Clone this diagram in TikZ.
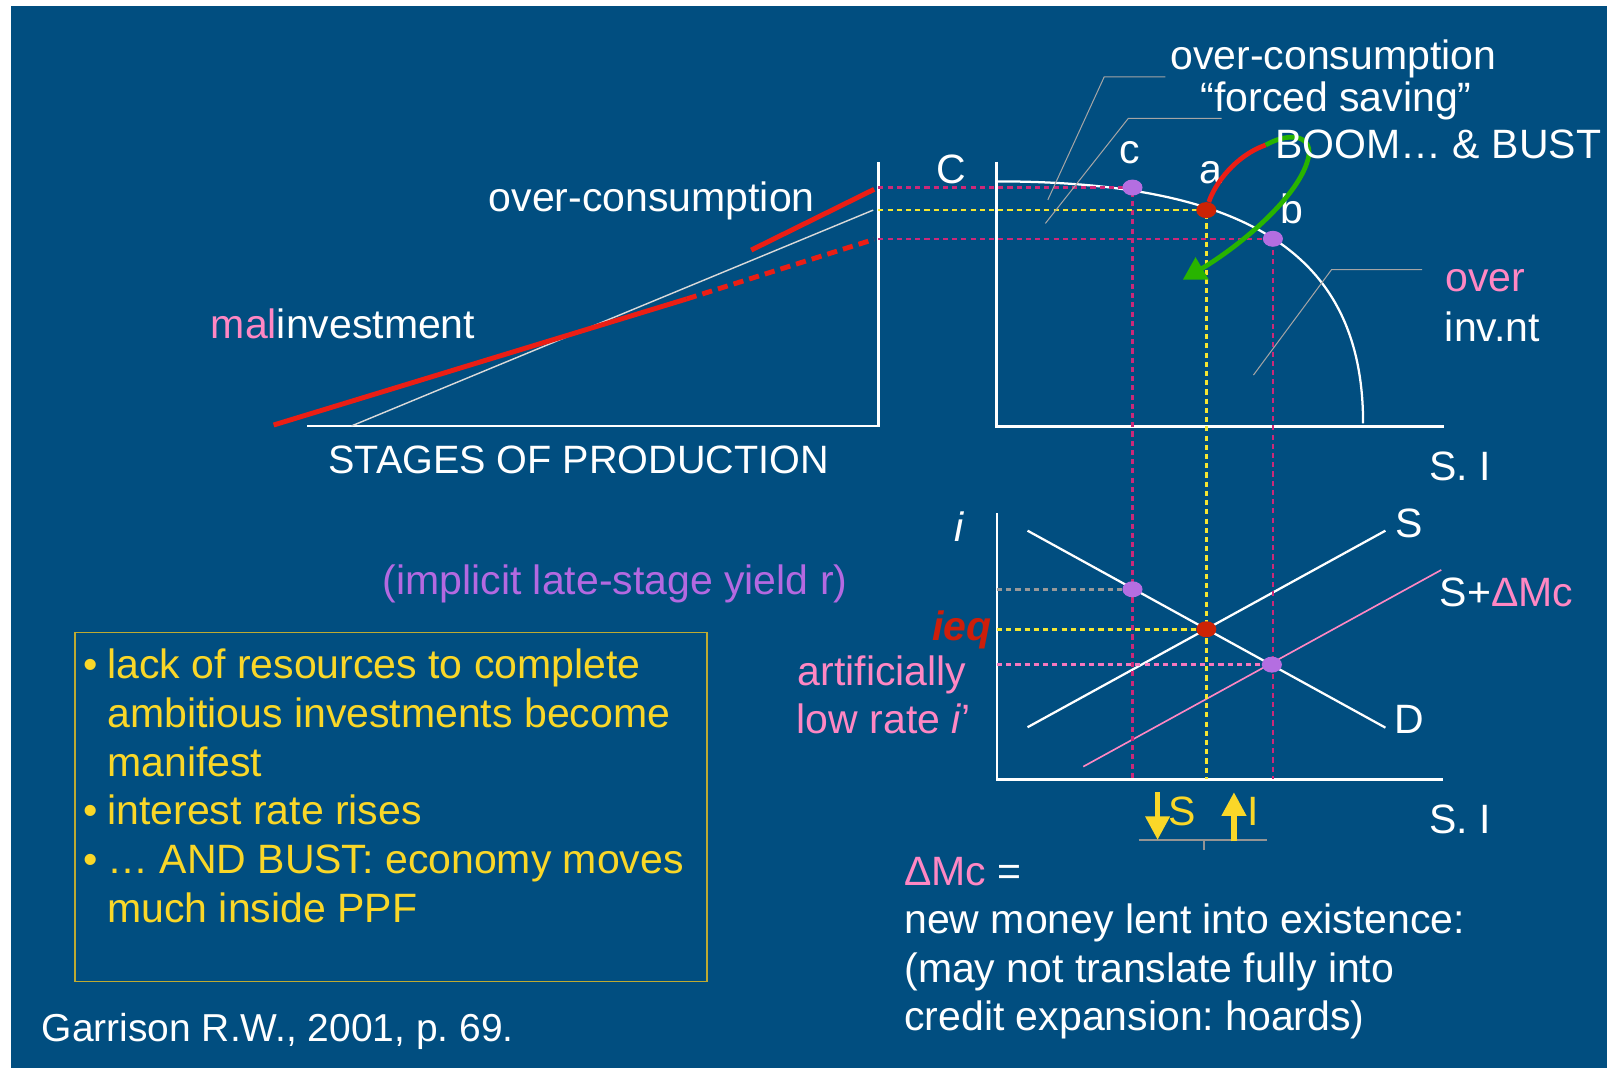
\documentclass[tikz,border=0pt]{standalone}
\usepackage{fontspec}
\setmainfont{Liberation Sans}
\usetikzlibrary{arrows.meta,shapes.geometric}
\frenchspacing
\definecolor{slideblue}{RGB}{1,78,128}
\definecolor{linered}{RGB}{235,30,20}
\definecolor{dotred}{RGB}{205,35,5}
\definecolor{dotpurple}{RGB}{180,110,225}
\definecolor{textpink}{RGB}{255,135,195}
\definecolor{textpurple}{RGB}{180,105,225}
\definecolor{guidemagenta}{RGB}{205,40,120}
\definecolor{guidepink}{RGB}{245,120,190}
\definecolor{guideyellow}{RGB}{245,230,50}
\definecolor{noteyellow}{RGB}{250,215,40}
\definecolor{boxolive}{RGB}{190,170,50}
\definecolor{boomgreen}{RGB}{40,180,0}
\definecolor{leadergray}{RGB}{165,165,165}
\definecolor{ieqred}{RGB}{205,30,10}
\tikzset{
  axis/.style={white, line width=1.3pt},
  ppf/.style={white, line width=1.1pt},
  faint/.style={white!85!black, line width=0.7pt},
  schedule/.style={white, line width=1.1pt},
  mcline/.style={textpink, line width=0.8pt},
  malline/.style={linered, line width=2.4pt},
  guide/.style={line width=1.2pt, dash pattern=on 2.5pt off 2pt},
  leader/.style={leadergray, line width=0.5pt},
  pointdot/.style={ellipse, minimum width=9.8pt, minimum height=7.8pt, inner sep=0pt},
  lab/.style={font=\fontsize{20}{24}\selectfont, text=white, inner sep=0pt, anchor=base west},
  block/.style={font=\fontsize{20}{23.8}\selectfont, text=white, inner sep=0pt,
                anchor=north west, align=left},
  swing/.style={line width=2.3pt},
  moveflow/.style={noteyellow, line width=2.6pt, -{Triangle[width=11.5pt,length=11.5pt]}},
  bracket/.style={leadergray!90!black, line width=0.9pt},
}

\begin{document}
\begin{tikzpicture}[x=0.5pt,y=-0.5pt]
  \path[use as bounding box] (0,0) rectangle (1568,1042);
  \fill[white] (0,0) rectangle (1568,1042);
  \fill[slideblue] (10.8,5.9) rectangle (1568,1042);

  % Stages of production.
  \draw[axis] (300,415.6) -- (857,415.6) -- (857,157.7);
  \draw[faint] (343,415.6) -- (852,205);
  \draw[malline] (267,414.7) -- (670,291.7);
  \draw[malline, dash pattern=on 5pt off 3pt] (670,291.7) -- (853,233.5);
  \draw[malline] (733,244) -- (853,184.7);
  \node[lab] (overconsLeft) at (476.6,206.5) {over-consumption};
  \node[lab] (malinv) at (205.4,330) {\textcolor{textpink}{mal}investment};
  \node[lab, font=\fontsize{19.3}{24}\selectfont] (stages) at (320,461.8) {STAGES OF PRODUCTION};
  \node[lab] (Clab) at (913,178.9) {C};

  % Production possibilities frontier.
  \draw[axis] (972.4,157.7) -- (972.4,416) -- (1409,416);
  \draw[ppf] (972.4,177) .. controls (1220,177) and (1330,250) .. (1330,413);
  \node[lab] (SIup) at (1394,469) {S. I};

  % Loanable funds market.
  \coordinate (lowO) at (972.8,760.4);
  \draw[axis] (972.8,500.8) -- (lowO) -- (1408,760.4);
  \draw[schedule] (1002.6,517.8) -- (1351.8,710);
  \draw[schedule] (1002.6,709.6) -- (1351.8,517.8);
  \draw[mcline] (1057,748) -- (1406.3,556.1);
  \node[lab] (Slab) at (1361.7,524.3) {S};
  \node[lab] (SMclab) at (1404.5,591.3) {S+\textcolor{textpink}{ΔMc}};
  \node[lab] (Dlab) at (1360.3,715.5) {D};
  \node[lab] (SIlow) at (1394,813) {S. I};
  \node[lab] (ilab) at (931,528.5) {\itshape i};

  % Guide lines.
  \coordinate (pc) at (1105,183);
  \coordinate (pa) at (1177,205);
  \coordinate (pb) at (1242,233);
  \coordinate (pr) at (1105,575);
  \coordinate (peq) at (1177,614);
  \coordinate (plow) at (1241,648.5);
  \coordinate (Cc) at (857,183);
  \coordinate (Ca) at (857,205);
  \coordinate (Cb) at (857,233);
  \draw[guide, guidemagenta] (Cc) -- (pc) -- (pc |- lowO);
  \draw[guide, guideyellow] (Ca) -- (pa) -- (pa |- lowO);
  \draw[guide, guidemagenta] (Cb) -- (pb) -- (pb |- lowO);
  \draw[guide, gray!80] (lowO |- pr) -- (pr);
  \draw[guide, guideyellow] (lowO |- peq) -- (peq);
  \draw[guide, guidepink] (lowO |- plow) -- (plow);

  % Points.
  \node[pointdot, fill=dotpurple] (c) at (pc) {};
  \node[pointdot, fill=dotred] (a) at (pa) {};
  \node[pointdot, fill=dotpurple] (b) at (pb) {};
  \node[pointdot, fill=dotpurple] (r) at (pr) {};
  \node[pointdot, fill=dotred] (eq) at (peq) {};
  \node[pointdot, fill=dotpurple] (low) at (plow) {};
  \node[lab] (clab) at (1091.5,159.4) {c};
  \node[lab] (alab) at (1169.5,179.5) {a};
  \node[lab] (blab) at (1249,217.9) {b};

  % Boom and bust swing.
  \coordinate (swingtop) at (1235,141.5);
  \coordinate (swingend) at (1154,273);
  \draw[swing, linered] (a) .. controls (1185,180) and (1205,152) .. (swingtop);
  \draw[swing, boomgreen, -{Triangle[width=12pt,length=11pt]}] (swingtop)
    .. controls (1255,130) and (1280,130) .. (1277,152)
    .. controls (1270,190) and (1210,240) .. (swingend);

  % Callouts.
  \node[lab] (overconsTop) at (1141.6,67.6) {over-consumption};
  \node[lab] (forced) at (1171,109) {“forced saving”};
  \node[lab] (boom) at (1244,155) {BOOM… \& BUST};
  \node[lab, text=textpink] (over) at (1410,284.6) {over};
  \node[lab] (invnt) at (1409.5,333.4) {inv.nt};
  \coordinate (oc1) at (1137,75);
  \coordinate (oc2) at (1022.4,195);
  \coordinate (fs1) at (1192,115.4);
  \coordinate (fs2) at (1020,218);
  \coordinate (oi1) at (1387.6,263);
  \coordinate (oi2) at (1223,366);
  \draw[leader] (oc1) -- (1077.4,75) -- (oc2);
  \draw[leader] (fs1) -- (1101,115.4) -- (fs2);
  \draw[leader] (oi1) -- (1299.3,263) -- (oi2);

  % Rate labels.
  \node[lab, text=textpurple] (yield) at (373,579.9) {(implicit late-stage yield r)};
  \node[lab, anchor=base east, text=ieqred,
        font=\fontsize{20}{24}\selectfont\bfseries\itshape] (ieq) at (968,624.5) {ieq};
  \node[lab, text=textpink] (artif) at (778,668.4) {artificially};
  \node[lab, text=textpink] (lowrate) at (777,715.5) {low rate \textit{i}’};

  % Saving down, investment up.
  \coordinate (br1) at (1111,819.6);
  \coordinate (br2) at (1236,819.6);
  \draw[bracket] (br1) -- (br2);
  \draw[bracket] (1175,819.6) -- (1175,829);
  \draw[moveflow] (1129.5,773) -- (1129.5,819.5);
  \draw[moveflow] (1204,821) -- (1204,773);
  \node[lab, text=noteyellow] (Sdown) at (1139.7,805) {S};
  \node[lab, text=noteyellow] (Iup) at (1217,805) {I};

  % Notes.
  \draw[boxolive, line width=0.8pt] (72.9,617.3) rectangle (689.7,957.8);
  \node[block, text=noteyellow] (notes) at (81,632.7)
    {\makebox[11.7pt][l]{•}lack of resources to complete\\
     \hspace*{11.7pt}ambitious investments become\\
     \hspace*{11.7pt}manifest\\
     \makebox[11.7pt][l]{•}interest rate rises\\
     \makebox[11.7pt][l]{•}… AND BUST: economy moves\\
     \hspace*{11.7pt}much inside PPF};
  \node[block, font=\fontsize{20}{23.5}\selectfont] (money) at (882,836.4)
    {\textcolor{textpink}{ΔMc} =\\
     new money lent into existence:\\
     (may not translate fully into\\
     credit expansion: hoards)};
  \node[lab, font=\fontsize{19}{23}\selectfont] (source) at (40.4,1016.3)
    {Garrison R.W., 2001, p. 69.};
\end{tikzpicture}
\end{document}
